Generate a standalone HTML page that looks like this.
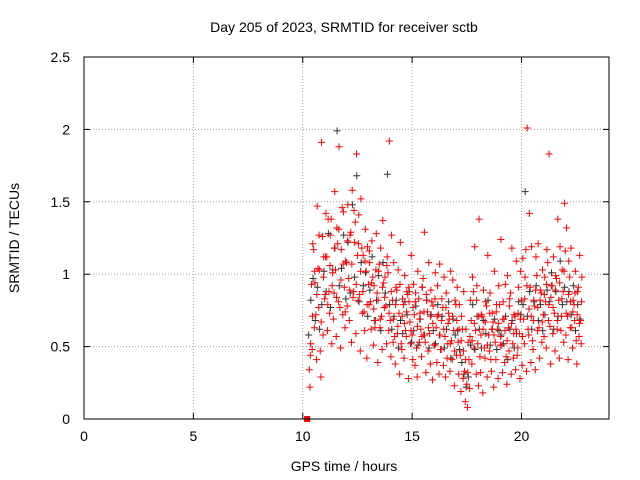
<!DOCTYPE html>
<html><head><meta charset="utf-8"><style>
body{margin:0;background:#fff}
svg{display:block;font-family:"Liberation Sans",sans-serif}
</style></head><body>
<svg id="chart" width="640" height="480">
<text x="344" y="32" text-anchor="middle" font-size="14">Day 205 of 2023, SRMTID for receiver sctb</text>
<text x="344" y="471" text-anchor="middle" font-size="14">GPS time / hours</text>
<text transform="translate(19,238) rotate(-90)" text-anchor="middle" font-size="14">SRMTID / TECUs</text>
<g id="grid"></g><g id="ticks"></g><g id="marks"></g>
<rect x="84" y="57" width="525" height="362" fill="none" stroke="#000" stroke-width="1"/>
</svg>
<script>
const times=[10.3,10.4,10.5,10.6,10.7,10.8,10.9,11.0,11.1,11.2,11.3,11.4,11.5,11.6,11.7,11.8,11.9,12.0,12.1,12.2,12.3,12.4,12.5,12.6,12.7,12.8,12.9,13.0,13.1,13.2,13.3,13.4,13.5,13.6,13.7,13.8,13.9,14.0,14.1,14.2,14.3,14.4,14.5,14.6,14.7,14.8,14.9,15.0,15.1,15.2,15.3,15.4,15.5,15.6,15.7,15.8,15.9,16.0,16.1,16.2,16.3,16.4,16.5,16.6,16.7,16.8,16.9,17.0,17.1,17.2,17.3,17.4,17.5,17.6,17.7,17.8,17.9,18.0,18.1,18.2,18.3,18.4,18.5,18.6,18.7,18.8,18.9,19.0,19.1,19.2,19.3,19.4,19.5,19.6,19.7,19.8,19.9,20.0,20.1,20.2,20.3,20.4,20.5,20.6,20.7,20.8,20.9,21.0,21.1,21.2,21.3,21.4,21.5,21.6,21.7,21.8,21.9,22.0,22.1,22.2,22.3,22.4,22.5,22.6,22.7];
const redMid=[0.34,0.93,1.17,0.72,1.04,0.47,1.26,0.83,1.12,0.88,1.38,0.69,1.03,1.21,0.77,1.46,0.91,1.08,0.97,1.29,0.84,1.36,1.13,0.86,1.18,0.74,1.02,0.93,0.81,0.98,0.63,0.87,1.07,0.71,0.94,0.78,1.01,0.68,0.82,0.57,0.89,0.73,0.52,0.79,0.61,0.86,0.67,0.58,0.72,0.49,0.83,0.62,0.97,0.53,0.74,0.59,0.81,0.51,0.63,0.72,0.48,0.77,0.57,0.42,0.69,0.54,0.61,0.79,0.53,0.44,0.62,0.33,0.24,0.41,0.68,0.88,0.61,0.52,0.43,0.71,0.49,0.78,0.58,0.41,0.67,0.53,0.62,0.79,0.51,0.69,0.43,0.63,0.87,0.52,0.71,0.44,0.59,0.82,0.69,1.17,0.62,0.91,0.54,0.78,0.99,0.63,0.87,0.72,0.81,1.08,0.64,0.92,0.73,0.97,0.82,0.61,0.88,1.16,0.71,0.98,0.63,0.79,0.54,0.91,0.68];
const redLow=[0.22,0.48,0.63,0.41,0.77,0.29,0.58,0.86,0.61,0.73,0.52,0.87,0.57,0.81,0.49,0.72,0.63,0.78,0.68,0.53,0.88,0.59,0.82,0.47,0.73,0.61,0.42,0.79,0.62,0.51,0.68,0.39,0.63,0.48,0.77,0.52,0.61,0.43,0.53,0.38,0.59,0.31,0.48,0.42,0.57,0.28,0.52,0.41,0.37,0.29,0.53,0.43,0.58,0.32,0.47,0.38,0.27,0.51,0.39,0.31,0.48,0.37,0.29,0.52,0.33,0.41,0.23,0.44,0.31,0.19,0.28,0.12,0.08,0.21,0.38,0.49,0.31,0.23,0.32,0.18,0.42,0.29,0.47,0.33,0.22,0.41,0.28,0.51,0.32,0.39,0.24,0.47,0.31,0.42,0.34,0.49,0.28,0.37,0.52,0.33,0.58,0.39,0.48,0.34,0.61,0.42,0.53,0.57,0.49,0.68,0.38,0.59,0.47,0.62,0.42,0.71,0.53,0.58,0.41,0.63,0.49,0.68,0.38,0.57,0.52];
const redHigh=[0.52,1.21,0.94,1.47,1.03,1.91,1.12,1.42,1.38,1.27,1.01,1.57,1.32,1.88,1.17,1.43,1.09,1.48,1.27,1.58,1.22,1.83,1.41,1.52,1.13,1.31,1.19,1.08,1.23,0.92,1.28,1.02,1.18,1.37,0.98,1.12,1.92,1.27,1.08,0.91,1.03,1.22,0.83,0.99,0.88,0.81,1.13,0.93,0.87,1.02,0.73,0.91,1.29,0.82,1.08,0.89,0.78,1.01,0.92,1.07,0.83,0.98,0.87,0.73,1.02,0.96,0.82,0.91,0.79,0.71,0.88,0.62,0.53,0.82,0.98,1.19,0.92,1.38,0.72,0.89,0.81,1.13,0.87,0.73,1.02,0.79,0.92,1.24,0.81,0.93,0.99,0.83,1.18,0.72,1.09,0.91,1.02,1.11,0.98,2.01,1.42,1.19,0.82,1.12,1.21,0.89,1.03,0.98,1.17,1.83,0.92,1.12,0.99,1.38,1.19,1.03,1.49,1.32,1.09,1.18,0.82,1.02,0.88,1.13,0.98];
const redExtra=[0.44,0.71,1.02,0.86,1.27,0.67,0.98,1.12,0.79,1.06,0.92,1.18,0.84,1.31,0.96,1.07,0.74,1.23,0.89,1.07,1.44,0.93,1.21,1.02,0.88,1.09,0.79,1.16,0.94,0.76,1.03,0.82,0.69,0.91,0.84,1.06,0.73,0.88,0.69,0.79,0.64,0.93,0.71,0.66,0.74,0.91,0.61,0.77,0.81,0.64,0.69,0.57,0.74,0.86,0.63,0.71,0.66,0.83,0.71,0.58,0.68,0.62,0.77,0.66,0.52,0.71,0.47,0.68,0.62,0.54,0.47,0.41,0.32,0.57,0.54,0.66,0.82,0.71,0.58,0.62,0.67,0.51,0.73,0.62,0.58,0.74,0.66,0.57,0.69,0.61,0.54,0.78,0.66,0.59,0.62,0.73,0.69,0.57,0.83,0.92,0.76,0.71,0.68,0.89,0.77,0.82,0.67,0.86,0.93,0.79,0.84,0.77,0.89,0.68,0.94,0.83,1.02,0.73,0.86,0.81,0.74,0.87,0.72,0.66,0.81];
const blackVals=[0.58,0.82,0.97,0.68,0.91,0.62,0.79,1.02,0.88,1.28,0.77,1.03,1.18,1.99,0.92,1.04,1.27,0.83,1.22,0.87,1.48,0.98,1.68,0.81,1.08,0.92,1.01,0.71,0.89,1.12,0.68,0.82,0.99,0.61,1.08,0.87,1.69,0.79,0.62,0.71,0.82,0.49,0.68,0.59,0.81,0.72,0.88,0.53,0.61,0.78,0.51,0.69,0.91,0.58,0.82,0.49,0.72,0.61,0.52,0.79,0.58,0.71,0.49,0.62,0.81,0.42,0.69,0.58,0.61,0.48,0.39,0.31,0.22,0.29,0.51,0.79,0.48,0.71,0.62,0.49,0.68,0.59,0.82,0.51,0.62,0.69,0.48,0.61,0.58,0.52,0.71,0.41,0.62,0.68,0.49,0.59,0.81,0.72,0.79,1.57,0.71,0.88,0.62,0.81,0.92,0.68,0.79,0.61,0.72,0.89,0.81,1.01,0.62,0.88,0.71,1.09,0.79,0.91,0.81,0.88,0.72,0.92,0.61,0.79,0.69];
const xTicks=[0,5,10,15,20];
const yTicks=[0,0.5,1,1.5,2,2.5];
const yTickLabels=["0","0.5","1","1.5","2","2.5"];
const NS="http://www.w3.org/2000/svg";
const X0=84,X1=609,Y0=419,Y1=57,XMAX=24,YMAX=2.5;
function xs(v){return X0+(X1-X0)*v/XMAX;}
function ys(v){return Y0-(Y0-Y1)*v/YMAX;}
function mk(tag,a,parent){const e=document.createElementNS(NS,tag);for(const k in a)e.setAttribute(k,a[k]);parent.appendChild(e);return e;}
const grid=document.getElementById('grid'),ticks=document.getElementById('ticks'),marks=document.getElementById('marks');
xTicks.forEach(v=>{const x=xs(v);
 if(v>0){const g=mk('line',{x1:x,x2:x,y1:Y0,y2:Y1,stroke:'#a0a0a0','stroke-dasharray':'1,2'},grid);
 
 }
 mk('line',{x1:x,x2:x,y1:Y0,y2:Y0-6,stroke:'#000'},ticks);
 mk('line',{x1:x,x2:x,y1:Y1,y2:Y1+6,stroke:'#000'},ticks);
 const t=mk('text',{x:x,y:Y0+22,'text-anchor':'middle','font-size':14},ticks);t.textContent=v;
 
 
});
yTicks.forEach((v,i)=>{const y=ys(v);
 if(v>0&&v<YMAX){const g=mk('line',{x1:X0,x2:X1,y1:y,y2:y,stroke:'#a0a0a0','stroke-dasharray':'1,2'},grid);
 
 }
 mk('line',{x1:X0,x2:X0+6,y1:y,y2:y,stroke:'#000'},ticks);
 mk('line',{x1:X1,x2:X1-6,y1:y,y2:y,stroke:'#000'},ticks);
 const t=mk('text',{x:X0-14,y:y+5,'text-anchor':'end','font-size':14},ticks);t.textContent=yTickLabels[i];
 
 
});
function plus(t,v,col,name){const x=xs(t),y=ys(v);
 const p=mk('path',{d:`M${x-3.5},${y}h7M${x},${y-3.5}v7`,stroke:col,'stroke-width':1,fill:'none'},marks);
 
 }
times.forEach((t,i)=>{plus(t-0.03,blackVals[i],'#333','black-point');});
times.forEach((t,i)=>{plus(t,redMid[i],'#f00','red-point');plus(t+0.03,redLow[i],'#f00','red-point');plus(t+0.06,redHigh[i],'#f00','red-point');plus(t+0.045,redExtra[i],'#f00','red-point');});
const sq=mk('rect',{x:xs(10.2)-3,y:ys(0)-3,width:6,height:6,fill:'#f00'},marks);


</script>
</body></html>
